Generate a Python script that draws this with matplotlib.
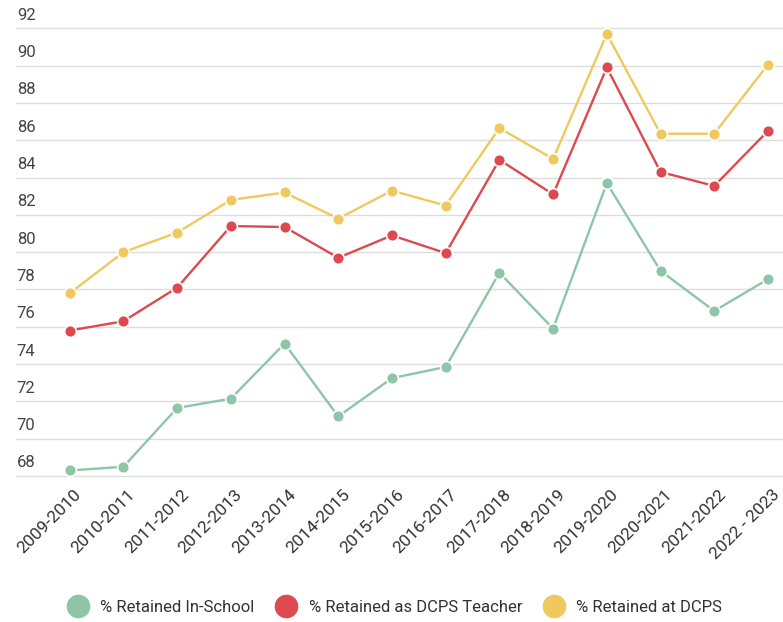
import numpy as np
import matplotlib
matplotlib.use("Agg")
import matplotlib.pyplot as plt
import matplotlib.transforms as mtransforms
from matplotlib.lines import Line2D

plt.rcParams['font.family'] = ['Roboto', 'DejaVu Sans']

# data
years = ["2009-2010", "2010-2011", "2011-2012", "2012-2013", "2013-2014",
         "2014-2015", "2015-2016", "2016-2017", "2017-2018", "2018-2019",
         "2019-2020", "2020-2021", "2021-2022", "2022 - 2023"]
in_school = [68.3, 68.5, 71.65, 72.15, 75.1, 71.2, 73.25, 73.85, 78.9, 75.9,
             83.7, 79.0, 76.85, 78.55]
dcps_teacher = [75.8, 76.3, 78.1, 81.4, 81.35, 79.7, 80.9, 79.95, 84.95, 83.1,
                89.9, 84.3, 83.55, 86.5]
at_dcps = [77.8, 80.0, 81.05, 82.8, 83.2, 81.8, 83.3, 82.5, 86.65, 85.0,
           91.7, 86.35, 86.35, 90.05]
yticks = list(range(68, 93, 2))

series = [
    ("% Retained In-School", in_school, "#8cc6a6"),
    ("% Retained as DCPS Teacher", dcps_teacher, "#dc4a50"),
    ("% Retained at DCPS", at_dcps, "#f0c95e"),
]

fig = plt.figure(figsize=(7.83, 6.22), dpi=100)
ax = fig.add_axes([16/783, (622-480)/622, 1 - 16/783, (480-10)/622])

x = np.arange(len(years))
for name, vals, col in series:
    ax.plot(x, vals, color=col, lw=1.7, marker="o", ms=8.5,
            mfc=col, mec="white", mew=1.2, zorder=3)

ax.set_xlim(-1.0, len(years) - 1 + 0.28)
ax.set_ylim(67.79, 92.98)

for v in yticks:
    ax.axhline(v, color="#dddddd", lw=1, zorder=1)
trans = mtransforms.blended_transform_factory(ax.transAxes, ax.transData)
for v in yticks:
    ax.text(0.001, v + 0.3, str(v), transform=trans, ha="left", va="bottom",
            fontsize=12, color="#444444")

ax.set_yticks([])
ax.set_xticks(x)
ax.set_xticklabels(years, rotation=45, ha="right", rotation_mode="anchor",
                   fontsize=12.5, color="#333333")
ax.tick_params(axis="x", length=0, pad=5)
shift = mtransforms.ScaledTranslation(4/100, 0, fig.dpi_scale_trans)
for lab in ax.get_xticklabels():
    lab.set_transform(lab.get_transform() + shift)
for s in ax.spines.values():
    s.set_visible(False)

handles = [Line2D([], [], ls="none", marker="o", ms=16, mfc=c, mec=c)
           for _, _, c in series]
fig.legend(handles, [n for n, _, _ in series], loc="center",
           bbox_to_anchor=(0.5, 1 - 607/622), ncol=3, frameon=False,
           fontsize=12, handletextpad=0.35, columnspacing=0.9,
           labelcolor="#333333")

fig.savefig("out.png", dpi=100)
